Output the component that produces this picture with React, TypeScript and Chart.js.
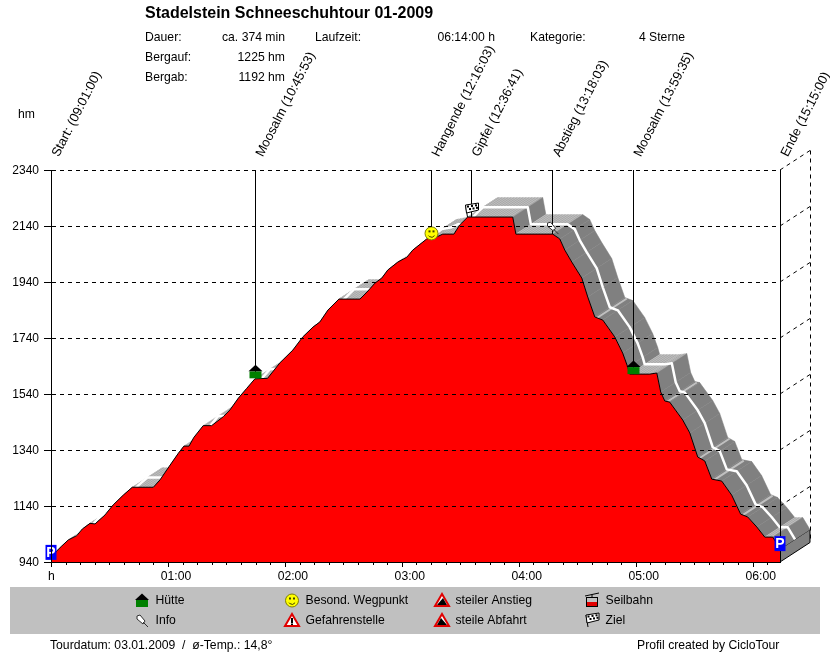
import { useEffect, useRef } from "react";
import Chart from "chart.js/auto";

// elevation profile
const minutes = [0, 2.6, 5.5, 8.9, 13.2, 16.1, 20, 22.6, 27.7, 31.9, 37.1, 41.7, 52.5, 55.9, 60.5, 65.3, 68.2, 70.8, 73.3, 78.1, 82.4, 88.4, 91.8, 96.1, 100.4, 104.6, 111.1, 117.4, 124.1, 129.2, 134.4, 137.9, 142.1, 147.7, 158.5, 162.1, 166.2, 169.7, 172.8, 177.9, 182.6, 185.6, 192.8, 197.9, 201, 206.7, 209.7, 213.8, 236.9, 238.5, 257.4, 261, 263.6, 267.2, 272.3, 275.4, 279, 283.1, 289.2, 293.3, 295.9, 296.9, 307.2, 310.8, 312.8, 314.9, 317.4, 324.1, 327.7, 331.8, 335.4, 339, 344.1, 349.2, 353.8, 357.4, 362.1, 366.2, 370.3, 374];
const elevations = [944, 977, 997, 1019, 1034, 1058, 1078, 1076, 1108, 1144, 1179, 1207, 1207, 1233, 1280, 1328, 1354, 1354, 1385, 1427, 1427, 1459, 1483, 1525, 1560, 1594, 1596, 1651, 1697, 1744, 1779, 1797, 1840, 1879, 1879, 1904, 1936, 1954, 1983, 2011, 2029, 2054, 2094, 2101, 2111, 2111, 2144, 2172, 2172, 2111, 2111, 2094, 2054, 2011, 1954, 1886, 1815, 1804, 1744, 1686, 1636, 1611, 1611, 1615, 1547, 1515, 1511, 1447, 1401, 1315, 1301, 1236, 1229, 1179, 1111, 1101, 1065, 1029, 1029, 986];

const eventLabels = ["Start: (09:01:00)", "Moosalm (10:45:53)", "Hangende (12:16:03)", "Gipfel (12:36:41)", "Abstieg (13:18:03)", "Moosalm (13:59:35)", "Ende (15:15:00)"];
const eventMinutes = [0, 104.9, 195, 215.7, 257, 298.6, 374];
const eventElevations = [944, 1596, 2094, 2172, 2111, 1611, 986];
const eventIcons = ["park", "hut", "smile", "flag", "pin", "hut", "park"];

const hourTicks = [0, 60, 120, 180, 240, 300, 360];
const hourLabels = ["h", "01:00", "02:00", "03:00", "04:00", "05:00", "06:00"];
const minorStep = 7.5;

const legendLeft = [["hut", "Hütte"], ["pin", "Info"]];
const legendMid = [["smile", "Besond. Wegpunkt"], ["danger", "Gefahrenstelle"]];
const legendRight = [["up", "steiler Anstieg"], ["down", "steile Abfahrt"]];
const legendFar = [["cable", "Seilbahn"], ["flag", "Ziel"]];

const FONT = '"Liberation Sans", Arial, sans-serif';
const TEXT = "12.2px " + FONT;
const DEPTH_X = 30;
const DEPTH_Y = -19.5;

function drawIcon(ctx: CanvasRenderingContext2D, kind: string, cx: number, by: number) {
    // cx = centre, by = bottom of the icon
    ctx.save();
    ctx.setLineDash([]);
    ctx.lineWidth = 1;
    if (kind === "hut") {
        ctx.fillStyle = "#008000";
        ctx.fillRect(cx - 6, by - 7, 12, 7);
        ctx.fillStyle = "#000000";
        ctx.beginPath();
        ctx.moveTo(cx - 7, by - 7);
        ctx.lineTo(cx, by - 13.5);
        ctx.lineTo(cx + 7, by - 7);
        ctx.closePath();
        ctx.fill();
    } else if (kind === "park") {
        ctx.fillStyle = "#0000ff";
        ctx.fillRect(cx - 6, by - 15, 11, 15);
        ctx.fillStyle = "#ffffff";
        ctx.font = "bold 14px " + FONT;
        ctx.textAlign = "center";
        ctx.textBaseline = "middle";
        ctx.fillText("P", cx - 0.5, by - 7);
    } else if (kind === "smile") {
        const cy = by - 6.5;
        ctx.fillStyle = "#ffff00";
        ctx.strokeStyle = "#808000";
        ctx.beginPath();
        ctx.arc(cx, cy, 6.5, 0, Math.PI * 2);
        ctx.fill();
        ctx.stroke();
        ctx.fillStyle = "#404000";
        ctx.fillRect(cx - 3, cy - 3, 2, 2);
        ctx.fillRect(cx + 1, cy - 3, 2, 2);
        ctx.strokeStyle = "#404000";
        ctx.beginPath();
        ctx.arc(cx, cy, 3.8, 0.2 * Math.PI, 0.8 * Math.PI);
        ctx.stroke();
    } else if (kind === "flag") {
        const x0 = cx - 6;
        const y0 = by - 14;
        ctx.strokeStyle = "#000000";
        ctx.beginPath();
        ctx.moveTo(x0, y0 + 2);
        ctx.lineTo(x0 + 2, by);
        ctx.stroke();
        ctx.fillStyle = "#ffffff";
        ctx.beginPath();
        ctx.moveTo(x0, y0 + 2);
        ctx.lineTo(x0 + 13, y0);
        ctx.lineTo(x0 + 13, y0 + 7);
        ctx.lineTo(x0 + 1, y0 + 10);
        ctx.closePath();
        ctx.fill();
        ctx.stroke();
        ctx.fillStyle = "#000000";
        for (let i = 0; i < 3; i++) {
            ctx.fillRect(x0 + 1.5 + i * 4, y0 + 2.5 - i * 0.6, 2, 2);
            ctx.fillRect(x0 + 3.5 + i * 3.5, y0 + 5 - i * 0.6, 2, 2);
        }
    } else if (kind === "pin") {
        ctx.translate(cx, by);
        ctx.fillStyle = "#ffffff";
        ctx.strokeStyle = "#303030";
        ctx.beginPath();
        ctx.moveTo(-5, -11);
        ctx.lineTo(-2, -12);
        ctx.lineTo(3, -6);
        ctx.lineTo(1, -3);
        ctx.lineTo(-5, -8);
        ctx.closePath();
        ctx.fill();
        ctx.stroke();
        ctx.beginPath();
        ctx.moveTo(1, -5);
        ctx.lineTo(6, 0);
        ctx.stroke();
    } else if (kind === "danger" || kind === "up" || kind === "down") {
        ctx.fillStyle = "#ffffff";
        ctx.strokeStyle = "#e00000";
        ctx.lineWidth = 2;
        ctx.lineJoin = "miter";
        ctx.beginPath();
        ctx.moveTo(cx, by - 13);
        ctx.lineTo(cx + 7, by - 1);
        ctx.lineTo(cx - 7, by - 1);
        ctx.closePath();
        ctx.fill();
        ctx.stroke();
        ctx.fillStyle = "#000000";
        if (kind === "danger") {
            ctx.fillRect(cx - 1, by - 9, 2, 5);
            ctx.fillRect(cx - 1, by - 3.5, 2, 1.5);
        } else {
            ctx.beginPath();
            if (kind === "up") {
                ctx.moveTo(cx - 5, by - 2);
                ctx.lineTo(cx + 1, by - 9);
                ctx.lineTo(cx + 5, by - 2);
            } else {
                ctx.moveTo(cx - 5, by - 2);
                ctx.lineTo(cx - 1, by - 9);
                ctx.lineTo(cx + 5, by - 2);
            }
            ctx.closePath();
            ctx.fill();
        }
    } else if (kind === "cable") {
        ctx.strokeStyle = "#000000";
        ctx.beginPath();
        ctx.moveTo(cx - 7, by - 11);
        ctx.lineTo(cx + 7, by - 14);
        ctx.moveTo(cx, by - 12.5);
        ctx.lineTo(cx, by - 9);
        ctx.stroke();
        ctx.strokeRect(cx - 5.5, by - 9.5, 11, 9);
        ctx.fillStyle = "#e00000";
        ctx.fillRect(cx - 5, by - 5, 10, 4);
    }
    ctx.restore();
}

const profilePlugin = {
    id: "profile3d",
    beforeDatasetsDraw(chart: any) {
        const { ctx, scales } = chart;
        const xs = minutes.map((m) => scales.x.getPixelForValue(m));
        const ys = elevations.map((e) => scales.y.getPixelForValue(e));
        ctx.save();
        // end face of the band
        const last = xs.length - 1;
        const floor = scales.y.getPixelForValue(940);
        ctx.fillStyle = "#808080";
        ctx.beginPath();
        ctx.moveTo(xs[last], ys[last]);
        ctx.lineTo(xs[last] + DEPTH_X, ys[last] + DEPTH_Y);
        ctx.lineTo(xs[last] + DEPTH_X, floor + DEPTH_Y);
        ctx.lineTo(xs[last], floor);
        ctx.closePath();
        ctx.fill();
        ctx.strokeStyle = "#000000";
        ctx.lineWidth = 1;
        ctx.beginPath();
        ctx.moveTo(xs[last], floor);
        ctx.lineTo(xs[last] + DEPTH_X, floor + DEPTH_Y);
        ctx.lineTo(xs[last] + DEPTH_X, ys[last] + DEPTH_Y);
        ctx.lineTo(xs[last], ys[last]);
        ctx.stroke();
        // band surface, left to right
        for (let i = 0; i < last; i++) {
            const dx = xs[i + 1] - xs[i];
            const dy = ys[i + 1] - ys[i];
            const flat = dy / dx <= 0.15;
            ctx.fillStyle = flat ? "#c0c0c0" : "#808080";
            ctx.strokeStyle = ctx.fillStyle;
            ctx.lineWidth = 0.5;
            ctx.beginPath();
            ctx.moveTo(xs[i], ys[i]);
            ctx.lineTo(xs[i + 1], ys[i + 1]);
            ctx.lineTo(xs[i + 1] + DEPTH_X, ys[i + 1] + DEPTH_Y);
            ctx.lineTo(xs[i] + DEPTH_X, ys[i] + DEPTH_Y);
            ctx.closePath();
            ctx.fill();
            ctx.stroke();
            if (flat) {
                ctx.strokeStyle = "#a8a8a8";
                ctx.lineWidth = 1;
                ctx.beginPath();
                for (let t = 1.5; t < dx; t += 3) {
                    const hx = xs[i] + t;
                    const hy = ys[i] + (dy * t) / dx;
                    ctx.moveTo(hx, hy);
                    ctx.lineTo(hx + DEPTH_X, hy + DEPTH_Y);
                }
                ctx.stroke();
            } else if (dy / dx < 0.6) {
                // gentle step on the way down: only a thin light stripe
                ctx.strokeStyle = "#c0c0c0";
                ctx.lineWidth = 2;
                ctx.beginPath();
                ctx.moveTo(xs[i] + 2, ys[i] + 1);
                ctx.lineTo(xs[i] + 2 + DEPTH_X, ys[i] + 1 + DEPTH_Y);
                ctx.stroke();
            }
        }
        // white centre line of the band
        ctx.strokeStyle = "#ffffff";
        ctx.lineWidth = 2.5;
        ctx.lineJoin = "round";
        ctx.beginPath();
        xs.forEach((x, i) => {
            const px = x + DEPTH_X / 2;
            const py = ys[i] + DEPTH_Y / 2;
            if (i === 0) ctx.moveTo(px, py);
            else ctx.lineTo(px, py);
        });
        ctx.stroke();
        ctx.restore();
    },
    afterDatasetsDraw(chart: any) {
        const { ctx, scales, chartArea } = chart;
        ctx.save();
        // dashed side wall at the right
        ctx.strokeStyle = "#000000";
        ctx.lineWidth = 1;
        ctx.setLineDash([4, 4]);
        const backX = Math.round(chartArea.right + DEPTH_X) + 0.5;
        scales.y.ticks.forEach((t: any) => {
            const py = Math.round(scales.y.getPixelForValue(t.value));
            if (t.value === 940) return;
            ctx.beginPath();
            ctx.moveTo(chartArea.right, py);
            ctx.lineTo(chartArea.right + DEPTH_X, py + DEPTH_Y);
            ctx.stroke();
        });
        ctx.beginPath();
        ctx.moveTo(backX, chartArea.top + DEPTH_Y);
        ctx.lineTo(backX, chartArea.bottom + DEPTH_Y);
        ctx.stroke();
        ctx.setLineDash([]);

        // minor and hour ticks
        const floor = Math.round(chartArea.bottom);
        ctx.beginPath();
        for (let m = 0; m <= scales.x.max; m += minorStep) {
            const px = Math.round(scales.x.getPixelForValue(m)) + 0.5;
            ctx.moveTo(px, floor);
            ctx.lineTo(px, floor + (m % 60 === 0 ? 5 : 3));
        }
        ctx.stroke();

        // event lines with the rotated labels
        ctx.fillStyle = "#000000";
        ctx.font = "13px " + FONT;
        eventMinutes.forEach((m, i) => {
            const px = Math.round(scales.x.getPixelForValue(m)) + 0.5;
            const py = scales.y.getPixelForValue(eventElevations[i]);
            ctx.beginPath();
            ctx.moveTo(px, chartArea.top);
            ctx.lineTo(px, i === 0 || i === eventMinutes.length - 1 ? chartArea.bottom : py);
            ctx.stroke();
            ctx.save();
            ctx.translate(px + 4, chartArea.top - 14);
            ctx.rotate((-63 * Math.PI) / 180);
            ctx.textAlign = "left";
            ctx.textBaseline = "middle";
            ctx.fillText(eventLabels[i], 0, 0);
            ctx.restore();
        });
        eventIcons.forEach((icon, i) => {
            const px = Math.round(scales.x.getPixelForValue(eventMinutes[i])) + 0.5;
            const py = scales.y.getPixelForValue(eventElevations[i]);
            const by = icon === "park" ? (i === 0 ? py - 1 : py + 2) : icon === "smile" ? py + 1 : py;
            drawIcon(ctx, icon, px, by);
        });

        // hour labels
        ctx.font = TEXT;
        ctx.textBaseline = "middle";
        ctx.textAlign = "center";
        hourTicks.forEach((m, i) => {
            const px = scales.x.getPixelForValue(m);
            ctx.fillText(hourLabels[i], i === 0 ? px + 0.5 : px + 8, 577);
        });

        // header
        ctx.textAlign = "left";
        ctx.fillText("hm", 18, 115);
        ctx.font = "bold 16px " + FONT;
        ctx.fillText("Stadelstein Schneeschuhtour 01-2009", 145, 14);
        ctx.font = TEXT;
        ctx.fillText("Dauer:", 145, 38);
        ctx.fillText("Bergauf:", 145, 58);
        ctx.fillText("Bergab:", 145, 78);
        ctx.fillText("Laufzeit:", 315, 38);
        ctx.fillText("Kategorie:", 530, 38);
        ctx.textAlign = "right";
        ctx.fillText("ca. 374 min", 285, 38);
        ctx.fillText("1225 hm", 285, 58);
        ctx.fillText("1192 hm", 285, 78);
        ctx.fillText("06:14:00 h", 495, 38);
        ctx.fillText("4 Sterne", 685, 38);

        // legend band
        ctx.fillStyle = "#c0c0c0";
        ctx.fillRect(10, 587, 810, 47);
        ctx.fillStyle = "#000000";
        ctx.textAlign = "left";
        [legendLeft, legendMid, legendRight, legendFar].forEach((col, c) => {
            const cx = 142 + c * 150;
            col.forEach(([icon, text], r) => {
                const cy = 600 + r * 20;
                drawIcon(ctx, icon, cx, cy + 7);
                ctx.fillStyle = "#000000";
                ctx.fillText(text, cx + 13.5, cy + 1);
            });
        });

        // footer
        ctx.fillText("Tourdatum: 03.01.2009  /  ø-Temp.: 14,8°", 50, 646);
        ctx.fillText("Profil created by CicloTour", 637, 646);
        ctx.restore();
    },
};

export default function App() {
    const canvasRef = useRef<HTMLCanvasElement | null>(null);

    useEffect(() => {
        if (!canvasRef.current) return;
        const chart = new Chart(canvasRef.current, {
            type: "line",
            data: {
                datasets: [
                    {
                        data: minutes.map((m, i) => ({ x: m, y: elevations[i] })),
                        borderColor: "#000000",
                        borderWidth: 1,
                        backgroundColor: "#ff0000",
                        fill: "start",
                        pointRadius: 0,
                        tension: 0,
                    },
                ],
            },
            options: {
                responsive: false,
                animation: false,
                devicePixelRatio: 1,
                layout: { padding: { top: 170, right: 50, left: 0, bottom: 0 } },
                plugins: { legend: { display: false }, title: { display: false }, tooltip: { enabled: false } },
                scales: {
                    x: {
                        type: "linear",
                        min: 0,
                        max: 374,
                        afterFit: (scale: any) => {
                            scale.height = 90;
                        },
                        ticks: { display: false },
                        grid: { display: false },
                        border: { display: true, color: "#000000", z: 1 },
                    },
                    y: {
                        min: 940,
                        max: 2340,
                        afterFit: (scale: any) => {
                            scale.width = 51;
                        },
                        ticks: {
                            stepSize: 200,
                            color: "#000000",
                            padding: 5,
                            labelOffset: 1,
                            font: { family: FONT, size: 12 },
                            callback: (v: any) => String(v),
                        },
                        grid: {
                            color: "#000000",
                            z: 1,
                            tickLength: 7,
                            tickColor: "#000000",
                            tickBorderDash: [],
                        } as any,
                        border: { color: "#000000", dash: [4, 4], z: 1 },
                    },
                },
            } as any,
            plugins: [profilePlugin],
        });
        return () => chart.destroy();
    }, []);

    return (
        <canvas
            ref={canvasRef}
            width={830}
            height={652}
            style={{ position: "absolute", left: 0, top: 0, width: 830, height: 652 }}
        />
    );
}
